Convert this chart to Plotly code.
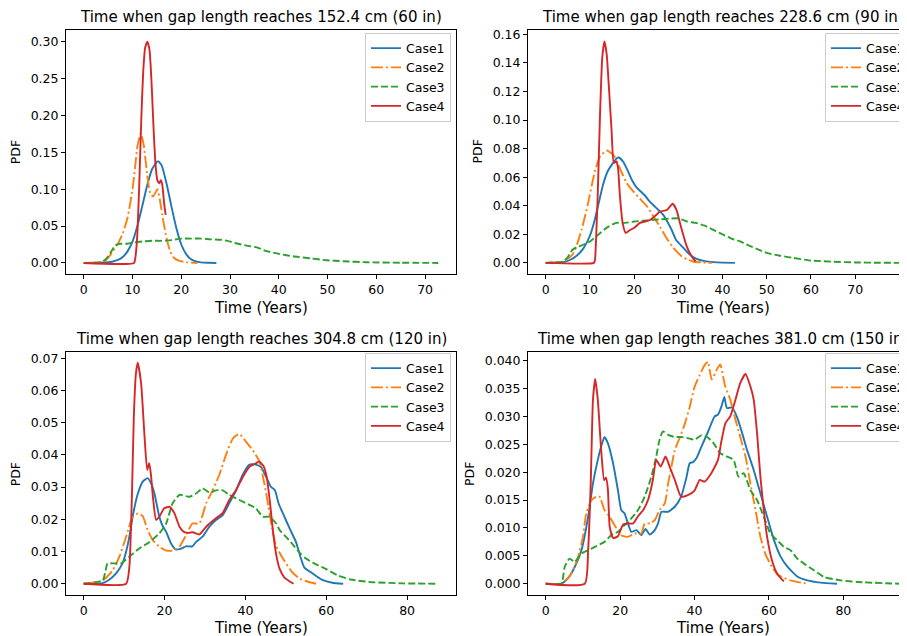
import plotly.graph_objects as go

# ---------------- data ----------------
# Panel 1: 152.4 cm (60 in)
p1_c1_x = [0, 3, 5, 6, 7, 8, 9, 10, 11, 12, 13, 14, 15, 15.3, 16, 17, 18, 19, 20, 21, 22, 23, 24, 25.5, 27.2]
p1_c1_y = [0, 0.0002, 0.001, 0.002, 0.004, 0.008, 0.016, 0.029, 0.050, 0.077, 0.105, 0.127, 0.137, 0.1376, 0.132, 0.107, 0.076, 0.047, 0.025, 0.012, 0.005, 0.002, 0.0007, 0.0002, 0]
p1_c2_x = [0, 3, 4, 5, 6, 7, 8, 9, 10, 10.5, 11, 11.7, 12.3, 13, 13.6, 14.2, 14.7, 15.1, 15.6, 16.3, 17.0, 17.7, 18.5, 19.5, 21, 23.3]
p1_c2_y = [0, 0.0005, 0.0015, 0.007, 0.016, 0.026, 0.040, 0.062, 0.100, 0.128, 0.158, 0.176, 0.160, 0.120, 0.095, 0.090, 0.095, 0.100, 0.086, 0.057, 0.033, 0.016, 0.007, 0.003, 0.001, 0]
p1_c3_x = [0, 3.5, 4.5, 5.5, 6.5, 7.5, 9, 10.5, 12, 14, 16, 18, 20, 22, 24, 26, 28, 29.5, 31, 33.4, 35.5, 37.5, 40.2, 42.9, 46.4, 49.8, 53.2, 58, 65, 72.7]
p1_c3_y = [0, 0.001, 0.005, 0.014, 0.024, 0.026, 0.026, 0.028, 0.029, 0.030, 0.030, 0.031, 0.033, 0.033, 0.033, 0.032, 0.0315, 0.030, 0.027, 0.0235, 0.021, 0.016, 0.012, 0.009, 0.0063, 0.0036, 0.0023, 0.0009, 0.0003, 0]
p1_c4_x = [0, 10.3, 10.6, 11.0, 11.4, 11.8, 12.2, 12.6, 13.07, 13.5, 13.9, 14.3, 14.7, 15.1, 15.5, 15.8, 16.1, 16.5, 16.8]
p1_c4_y = [0, 0, 0.008, 0.040, 0.110, 0.195, 0.260, 0.292, 0.300, 0.288, 0.245, 0.185, 0.135, 0.112, 0.108, 0.112, 0.106, 0.080, 0.065]

# Panel 2: 228.6 cm (90 in)
p2_c1_x = [0, 4, 5.5, 7, 8.5, 10, 11, 12, 13, 14, 15, 16, 16.5, 17.5, 18.5, 19.5, 20.5, 21.5, 22.5, 23.5, 24.5, 25.5, 26.5, 27.5, 28.5, 29.5, 31, 32.5, 34, 36, 38, 40, 42.8]
p2_c1_y = [0, 0.0005, 0.002, 0.005, 0.010, 0.019, 0.029, 0.042, 0.055, 0.064, 0.069, 0.073, 0.0738, 0.071, 0.065, 0.058, 0.053, 0.050, 0.047, 0.043, 0.040, 0.037, 0.034, 0.029, 0.023, 0.016, 0.011, 0.006, 0.003, 0.0012, 0.0005, 0.0002, 0]
p2_c2_x = [0, 3.5, 4.4, 5.5, 6.3, 7.2, 8.1, 9.0, 9.6, 10.4, 11.2, 12.3, 13.8, 15.3, 16.8, 18.3, 19.8, 21.3, 22.8, 24.3, 25.9, 27.4, 28.5, 29.6, 30.8, 31.9, 33.5, 35.6, 37.7]
p2_c2_y = [0, 0.0005, 0.002, 0.004, 0.007, 0.014, 0.023, 0.034, 0.042, 0.054, 0.065, 0.0745, 0.0787, 0.0757, 0.066, 0.056, 0.050, 0.045, 0.040, 0.033, 0.025, 0.017, 0.012, 0.008, 0.0045, 0.0025, 0.0008, 0.0003, 0]
p2_c3_x = [0, 4, 5, 6, 7, 8, 10, 12, 14, 16, 18, 20, 22, 24, 26, 28, 30, 32, 34, 36, 38, 40, 42, 44, 46, 48, 50, 53, 56, 60, 65, 70, 75, 80]
p2_c3_y = [0, 0.001, 0.004, 0.009, 0.011, 0.012, 0.015, 0.020, 0.025, 0.028, 0.028, 0.029, 0.0295, 0.030, 0.0305, 0.031, 0.0312, 0.029, 0.028, 0.026, 0.023, 0.020, 0.017, 0.015, 0.012, 0.0095, 0.007, 0.005, 0.0035, 0.0016, 0.0008, 0.0003, 0.0001, 0]
p2_c4_x = [0, 10.9, 11.15, 11.5, 11.76, 12.3, 12.8, 13.3, 13.8, 14.2, 14.9, 15.4, 15.9, 16.3, 16.8, 17.4, 18.1, 19.1, 20.2, 21.3, 22.5, 23.6, 24.8, 25.9, 27.4, 28.7, 29.6, 30.2, 30.8, 31.9, 33.0, 33.9]
p2_c4_y = [0, 0, 0.002, 0.025, 0.0465, 0.105, 0.144, 0.155, 0.146, 0.128, 0.093, 0.070, 0.071, 0.068, 0.0465, 0.028, 0.021, 0.023, 0.025, 0.028, 0.029, 0.030, 0.033, 0.036, 0.037, 0.0414, 0.037, 0.030, 0.023, 0.0116, 0.0047, 0.001]

# Panel 3: 304.8 cm (120 in)
p3_c1_x = [0, 4.7, 6.3, 8.0, 9.6, 10.5, 11.3, 12.1, 13.4, 14.6, 15.8, 16.7, 17.5, 18.7, 19.5, 20.4, 21.6, 22.8, 24.1, 25.3, 26.9, 27.8, 29.4, 31.1, 32.7, 34.4, 36.0, 37.7, 39.3, 41.0, 42.6, 43.9, 45.1, 46.3, 47.3, 48.2, 49.4, 51.0, 52.5, 53.7, 54.6, 56.5, 59, 61.5, 64.2]
p3_c1_y = [0, 0.0002, 0.0012, 0.0032, 0.0063, 0.010, 0.0146, 0.0208, 0.028, 0.0317, 0.0328, 0.0311, 0.028, 0.0208, 0.018, 0.0161, 0.0125, 0.0106, 0.0109, 0.0116, 0.0116, 0.013, 0.0146, 0.0177, 0.0198, 0.0213, 0.025, 0.029, 0.0338, 0.037, 0.037, 0.0362, 0.0332, 0.0301, 0.029, 0.025, 0.0215, 0.017, 0.013, 0.008, 0.005, 0.0033, 0.0012, 0.0003, 0]
p3_c2_x = [0, 4.7, 7.2, 8.8, 10.5, 12.1, 13.4, 14.6, 15.8, 17.1, 18.7, 20.4, 22.0, 23.7, 25.3, 26.9, 28.6, 30.3, 31.9, 33.6, 35.2, 36.9, 38.5, 40.2, 41.8, 43.5, 44.7, 45.7, 46.5, 47.5, 49.2, 51.5, 53.5, 55.5, 57.5]
p3_c2_y = [0, 0.001, 0.0042, 0.0083, 0.0146, 0.0208, 0.0218, 0.021, 0.0167, 0.0135, 0.0115, 0.0103, 0.0103, 0.0115, 0.015, 0.0187, 0.0187, 0.025, 0.029, 0.034, 0.040, 0.0451, 0.0465, 0.044, 0.0415, 0.0379, 0.031, 0.024, 0.018, 0.012, 0.008, 0.0037, 0.0015, 0.0006, 0]
p3_c3_x = [0, 4.7, 5.4, 5.9, 7.6, 9.2, 11.3, 13.8, 16.2, 18.7, 20.4, 22.0, 23.7, 26.1, 27.8, 29.4, 31.1, 32.7, 34.4, 36.0, 38.5, 41.0, 42.6, 44.3, 45.9, 47.6, 48.5, 50, 51.5, 53.5, 55, 57, 60, 63, 66, 71, 79, 87.7]
p3_c3_y = [0, 0.001, 0.004, 0.0063, 0.0063, 0.0063, 0.0084, 0.011, 0.0129, 0.0156, 0.0187, 0.025, 0.0276, 0.027, 0.028, 0.0296, 0.0283, 0.029, 0.029, 0.0276, 0.026, 0.0245, 0.0234, 0.0208, 0.0208, 0.0187, 0.0166, 0.0146, 0.0125, 0.0095, 0.0078, 0.0063, 0.0045, 0.0025, 0.0013, 0.0005, 0.0001, 0]
p3_c4_x = [0, 10.5, 11.3, 11.9, 12.4, 12.9, 13.36, 14.2, 15.0, 15.7, 16.2, 16.6, 17.2, 17.9, 18.7, 19.9, 21.2, 22.4, 23.7, 24.9, 26.0, 27.0, 28.6, 30.3, 32.7, 34.4, 36.0, 37.7, 39.3, 41.0, 42.6, 43.4, 44.5, 45.3, 46.1, 46.9, 47.7, 48.5, 49.6, 51.9]
p3_c4_y = [0, 0, 0.0053, 0.026, 0.0519, 0.065, 0.0686, 0.0622, 0.0467, 0.0353, 0.0374, 0.0343, 0.026, 0.0198, 0.0208, 0.0234, 0.0239, 0.022, 0.0177, 0.016, 0.0158, 0.016, 0.0153, 0.0177, 0.0203, 0.022, 0.026, 0.0291, 0.033, 0.0363, 0.0374, 0.0379, 0.0365, 0.033, 0.025, 0.0155, 0.0085, 0.0045, 0.002, 0]

# Panel 4: 381.0 cm (150 in)
p4_c1_x = [0, 4.2, 6.0, 7.8, 9.6, 11.4, 12.7, 14.0, 14.9, 15.8, 16.7, 18.1, 19.4, 20.3, 21.2, 22.1, 23.0, 24.4, 25.7, 26.8, 28.0, 29.3, 30.2, 31.1, 32.9, 34.7, 36.4, 37.8, 38.7, 39.6, 40.5, 41.8, 43.6, 45.4, 46.3, 47.2, 48.0, 48.7, 50.1, 51.4, 52.8, 54.1, 55.9, 57.7, 59.5, 61.3, 63.1, 64.9, 67.6, 70.3, 73.9, 78.3]
p4_c1_y = [0, 0, 0.001, 0.003, 0.006, 0.012, 0.018, 0.0222, 0.0246, 0.0263, 0.0252, 0.0216, 0.0168, 0.0132, 0.0126, 0.0108, 0.0093, 0.0096, 0.0087, 0.0098, 0.0088, 0.0096, 0.0108, 0.0129, 0.0129, 0.0138, 0.0156, 0.019, 0.0216, 0.0218, 0.0225, 0.0245, 0.0272, 0.0300, 0.0303, 0.0317, 0.0335, 0.0315, 0.0316, 0.0299, 0.027, 0.024, 0.0204, 0.0162, 0.012, 0.0079, 0.0049, 0.0031, 0.0013, 0.0006, 0.0002, 0]
p4_c2_x = [0, 4.2, 6.9, 8.7, 10.0, 10.9, 12.3, 13.6, 14.5, 15.8, 17.2, 18.5, 20.3, 22.1, 23.9, 25.7, 26.6, 28.0, 29.3, 30.6, 32.0, 32.9, 33.8, 34.7, 36.1, 37.4, 38.7, 40.0, 41.4, 42.7, 43.6, 44.6, 45.9, 46.9, 48.2, 49.6, 51.0, 52.3, 53.7, 55.0, 56.4, 57.7, 59.0, 60.8, 62.6, 65.7, 70.3]
p4_c2_y = [0, 0, 0.0018, 0.0048, 0.0084, 0.0126, 0.015, 0.0156, 0.0156, 0.0132, 0.012, 0.0105, 0.0087, 0.0084, 0.009, 0.009, 0.0108, 0.0108, 0.0114, 0.0132, 0.0144, 0.018, 0.021, 0.024, 0.0263, 0.0287, 0.0317, 0.0353, 0.0374, 0.0392, 0.0398, 0.0366, 0.0383, 0.0393, 0.0355, 0.033, 0.0294, 0.0263, 0.0228, 0.018, 0.0132, 0.0084, 0.0054, 0.003, 0.0015, 0.0006, 0]
p4_c3_x = [0, 4.2, 5.1, 6.4, 7.8, 9.6, 11.4, 13.2, 15.8, 17.6, 19.4, 21.2, 23.0, 24.8, 26.6, 28.4, 29.7, 30.6, 31.5, 32.9, 34.7, 36.4, 38.2, 40.0, 41.8, 43.4, 45.1, 46.9, 48.7, 50.5, 51.8, 53.2, 55.0, 56.8, 58.6, 60.4, 62.2, 64.0, 65.8, 67.6, 69.4, 72.1, 74.8, 79.3, 83.8, 95.0]
p4_c3_y = [0, 0, 0.003, 0.0045, 0.0039, 0.0054, 0.006, 0.0066, 0.0075, 0.0087, 0.0093, 0.0105, 0.0117, 0.0132, 0.0156, 0.0192, 0.0228, 0.0258, 0.0273, 0.0267, 0.0263, 0.0263, 0.0261, 0.0258, 0.0266, 0.0263, 0.0252, 0.0234, 0.0228, 0.0222, 0.0192, 0.0198, 0.0168, 0.015, 0.012, 0.009, 0.0078, 0.0066, 0.006, 0.0045, 0.0036, 0.0024, 0.0012, 0.0006, 0.0003, 0]
p4_c4_x = [0, 10.5, 11.4, 12.1, 12.7, 13.3, 14.0, 14.9, 15.7, 16.2, 16.7, 17.2, 18.1, 19.4, 20.8, 22.1, 23.5, 24.8, 26.2, 27.5, 28.8, 29.7, 30.9, 32.2, 33.3, 34.7, 36.4, 38.2, 40.0, 41.4, 42.7, 44.5, 46.3, 47.2, 48.3, 49.6, 51.0, 52.3, 53.7, 55.0, 55.9, 56.8, 57.7, 58.6, 59.5, 60.8, 62.2, 64.0]
p4_c4_y = [0, 0, 0.006, 0.018, 0.033, 0.0367, 0.033, 0.024, 0.0186, 0.019, 0.017, 0.0102, 0.0082, 0.0085, 0.0106, 0.0108, 0.0108, 0.0121, 0.0132, 0.015, 0.0186, 0.0222, 0.021, 0.0228, 0.021, 0.0186, 0.0156, 0.0159, 0.0167, 0.0186, 0.0183, 0.0198, 0.0222, 0.0255, 0.0288, 0.030, 0.033, 0.036, 0.0376, 0.0354, 0.033, 0.027, 0.0192, 0.0132, 0.0084, 0.0042, 0.0018, 0.0004]

case_names = ["Case1", "Case2", "Case3", "Case4"]
titles = ["Time when gap length reaches 152.4 cm (60 in)",
          "Time when gap length reaches 228.6 cm (90 in)",
          "Time when gap length reaches 304.8 cm (120 in)",
          "Time when gap length reaches 381.0 cm (150 in)"]
x_label = "Time (Years)"
y_label = "PDF"

p1_xticks = [0, 10, 20, 30, 40, 50, 60, 70]
p2_xticks = [0, 10, 20, 30, 40, 50, 60, 70, 80]
p3_xticks = [0, 20, 40, 60, 80]
p4_xticks = [0, 20, 40, 60, 80]
p1_yticks = [0.00, 0.05, 0.10, 0.15, 0.20, 0.25, 0.30]
p2_yticks = [0.00, 0.02, 0.04, 0.06, 0.08, 0.10, 0.12, 0.14, 0.16]
p3_yticks = [0.00, 0.01, 0.02, 0.03, 0.04, 0.05, 0.06, 0.07]
p4_yticks = [0.000, 0.005, 0.010, 0.015, 0.020, 0.025, 0.030, 0.035, 0.040]

# ---------------- styling ----------------
# The page body keeps its default 8px margin, so the figure is laid out
# in window pixels and shifted by that offset.
OFF = 8
W, H = 907 - OFF, 636 - OFF
FONT = "DejaVu Sans"
colors = ["#1f77b4", "#ff7f0e", "#2ca02c", "#d62728"]
dashes = ["solid", "12px,3px,2px,3px", "7px,3px", "solid"]


def fx(px):
    return (px - OFF) / W


def fy(py):
    return 1 - (py - OFF) / H


panels = [
    dict(data=[(p1_c1_x, p1_c1_y), (p1_c2_x, p1_c2_y), (p1_c3_x, p1_c3_y), (p1_c4_x, p1_c4_y)],
         px=(66, 456), py=(30, 274), xr=[-3.64, 76.34], yr=[-0.015, 0.3158],
         xt=p1_xticks, yt=p1_yticks, yf=".2f", right=False, leg=(365, 32.5)),
    dict(data=[(p2_c1_x, p2_c1_y), (p2_c2_x, p2_c2_y), (p2_c3_x, p2_c3_y), (p2_c4_x, p2_c4_y)],
         px=(528, 907), py=(30, 274), xr=[-4.0, 81.72], yr=[-0.0078, 0.1631],
         xt=p2_xticks, yt=p2_yticks, yf=".2f", right=True, leg=(825, 32.5)),
    dict(data=[(p3_c1_x, p3_c1_y), (p3_c2_x, p3_c2_y), (p3_c3_x, p3_c3_y), (p3_c4_x, p3_c4_y)],
         px=(66, 456), py=(351.7, 595.3), xr=[-4.38, 92.1], yr=[-0.0036, 0.07205],
         xt=p3_xticks, yt=p3_yticks, yf=".2f", right=False, leg=(365, 352.5)),
    dict(data=[(p4_c1_x, p4_c1_y), (p4_c2_x, p4_c2_y), (p4_c3_x, p4_c3_y), (p4_c4_x, p4_c4_y)],
         px=(528, 907), py=(351.7, 595.3), xr=[-4.76, 97.1], yr=[-0.00208, 0.0416],
         xt=p4_xticks, yt=p4_yticks, yf=".3f", right=True, leg=(825, 352.5)),
]

title_pos = [(261, 17.5), (722.5, 17.5), (261, 338.5), (722.5, 338.5)]
xlab_pos = [(261, 307.5), (722.5, 307.5), (261, 627.5), (722.5, 627.5)]
ylab_pos = [(16.2, 152), (477.5, 152), (16.3, 474), (470, 474)]

fig = go.Figure()
layout = dict(width=W, height=H, paper_bgcolor="white", plot_bgcolor="white",
              margin=dict(l=0, r=0, t=0, b=0, pad=0, autoexpand=False),
              font=dict(family=FONT, size=12.5, color="black"), annotations=[])

for i, p in enumerate(panels, start=1):
    sfx = "" if i == 1 else str(i)
    legname = "legend" + sfx
    for j, (xs, ys) in enumerate(p["data"]):
        fig.add_trace(go.Scatter(
            x=xs, y=ys, mode="lines", name=case_names[j],
            line=dict(color=colors[j], width=1.9, dash=dashes[j], shape="spline", smoothing=0.5),
            xaxis="x" + sfx, yaxis="y" + sfx, legend=legname, showlegend=True))
    layout["xaxis" + sfx] = dict(
        domain=[fx(p["px"][0]), min(1.0, fx(p["px"][1]))], anchor="y" + sfx, range=p["xr"],
        tickmode="array", tickvals=p["xt"], ticktext=[str(v) for v in p["xt"]],
        showline=True, mirror=True, linecolor="black", linewidth=1,
        ticks="outside", ticklen=4, tickwidth=1, tickcolor="black",
        showgrid=False, zeroline=False, automargin=False,
        tickfont=dict(family=FONT, size=12.5, color="black"))
    layout["yaxis" + sfx] = dict(
        domain=[fy(p["py"][1]), fy(p["py"][0])], anchor="x" + sfx, range=p["yr"],
        tickmode="array", tickvals=p["yt"], ticktext=[format(v, p["yf"]) for v in p["yt"]],
        showline=True, mirror=(not p["right"]), linecolor="black", linewidth=1,
        ticks="outside", ticklen=4, tickwidth=1, tickcolor="black",
        showgrid=False, zeroline=False, automargin=False,
        tickfont=dict(family=FONT, size=12.5, color="black"))
    layout[legname] = dict(
        x=fx(p["leg"][0]), y=fy(p["leg"][1]), xanchor="left", yanchor="top",
        xref="paper", yref="paper",
        bgcolor="rgba(255,255,255,0.8)", bordercolor="#cccccc", borderwidth=1,
        font=dict(family=FONT, size=12.5, color="black"), tracegroupgap=0)
    tx, ty = title_pos[i - 1]
    layout["annotations"].append(dict(
        text=titles[i - 1], x=fx(tx), y=fy(ty), xref="paper", yref="paper",
        xanchor="center", yanchor="middle", showarrow=False,
        font=dict(family=FONT, size=15, color="black")))
    lx, ly = xlab_pos[i - 1]
    layout["annotations"].append(dict(
        text=x_label, x=fx(lx), y=fy(ly), xref="paper", yref="paper",
        xanchor="center", yanchor="middle", showarrow=False,
        font=dict(family=FONT, size=15, color="black")))
    yx, yy = ylab_pos[i - 1]
    layout["annotations"].append(dict(
        text=y_label, x=fx(yx), y=fy(yy), xref="paper", yref="paper",
        xanchor="center", yanchor="middle", showarrow=False, textangle=-90,
        font=dict(family=FONT, size=12.5, color="black")))

fig.update_layout(**layout)
fig.write_html("out.html")
